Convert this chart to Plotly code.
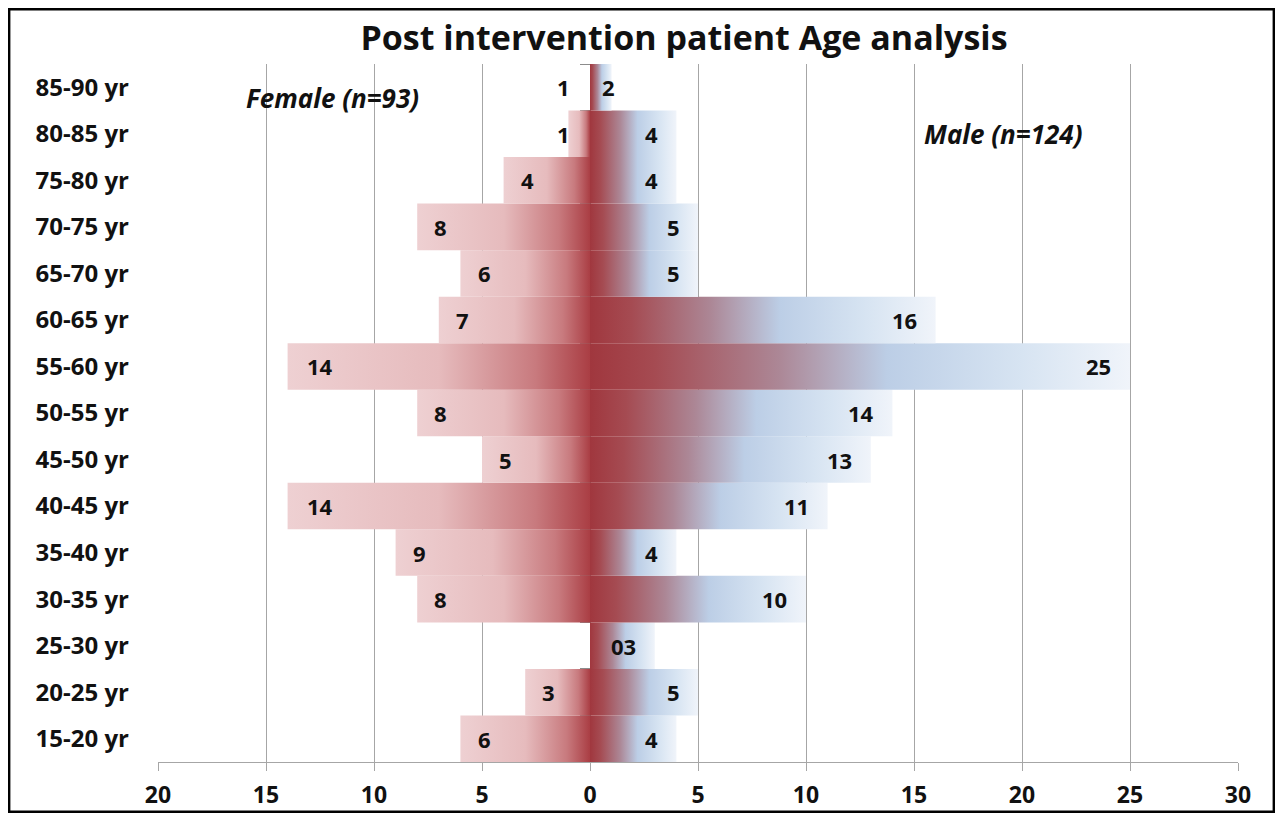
import plotly.graph_objects as go

# age bands, bottom to top
age_groups = ["15-20 yr", "20-25 yr", "25-30 yr", "30-35 yr", "35-40 yr",
              "40-45 yr", "45-50 yr", "50-55 yr", "55-60 yr", "60-65 yr",
              "65-70 yr", "70-75 yr", "75-80 yr", "80-85 yr", "85-90 yr"]

female = [6, 3, 0, 8, 9, 14, 5, 8, 14, 7, 6, 8, 4, 1, 0]
female_labels = ["6", "3", "", "8", "9", "14", "5", "8", "14", "7", "6", "8", "4", "1", "1"]

male = [4, 5, 3, 10, 4, 11, 13, 14, 25, 16, 5, 5, 4, 4, 1]
male_labels = ["4", "5", "03", "10", "4", "11", "13", "14", "25", "16", "5", "5", "4", "4", "2"]

x_ticks = [-20, -15, -10, -5, 0, 5, 10, 15, 20, 25, 30]

# the page body has an 8px margin all round, so keep the figure inside the window
W, H = 1267, 805
ML, MR, MT, MB = 150, 37, 56, 51

female_scale = [[0, "rgb(238,208,210)"], [0.5, "rgb(230,187,189)"],
                [0.82, "rgb(200,122,126)"], [1, "rgb(170,62,68)"]]
male_scale = [[0, "rgb(160,55,62)"], [0.12, "rgb(165,75,82)"],
              [0.35, "rgb(172,135,150)"], [0.55, "rgb(188,206,230)"],
              [0.8, "rgb(215,228,242)"], [1, "rgb(240,244,250)"]]

font = "Open Sans"
fig = go.Figure()

for i, v in enumerate(female):
    if v <= 0:
        continue
    fig.add_trace(go.Scatter(
        x=[-v, 0, 0, -v, -v], y=[i - 0.5, i - 0.5, i + 0.5, i + 0.5, i - 0.5],
        mode="lines", fill="toself", line=dict(width=0),
        fillgradient=dict(type="horizontal", colorscale=female_scale, start=-v, stop=0),
        showlegend=False, hoverinfo="skip"))

for i, v in enumerate(male):
    if v <= 0:
        continue
    fig.add_trace(go.Scatter(
        x=[0, v, v, 0, 0], y=[i - 0.5, i - 0.5, i + 0.5, i + 0.5, i - 0.5],
        mode="lines", fill="toself", line=dict(width=0),
        fillgradient=dict(type="horizontal", colorscale=male_scale, start=0, stop=v),
        showlegend=False, hoverinfo="skip"))

# invisible point so the category axis at x=0 gets drawn
fig.add_trace(go.Scatter(x=[0], y=[7], yaxis="y2", mode="markers",
                         marker=dict(opacity=0), showlegend=False, hoverinfo="skip"))

lab_font = dict(family=font, size=22, color="#111111")
for i, t in enumerate(female_labels):
    if not t:
        continue
    off = 1.1 if len(t) == 1 else 1.5
    pos = max(float(t) - off, 1.25)
    fig.add_annotation(x=-pos, y=i, text="<b>%s</b>" % t, showarrow=False,
                       font=lab_font, xanchor="center")
for i, t in enumerate(male_labels):
    off = 1.15 if len(t) == 1 else 1.45
    pos = float(t) - off
    fig.add_annotation(x=pos, y=i, text="<b>%s</b>" % t, showarrow=False,
                       font=lab_font, xanchor="center")

fig.add_annotation(x=-11.9, y=13.78, text="<b><i>Female (n=93)</i></b>", showarrow=False,
                   font=dict(family=font, size=26, color="#111111"))
fig.add_annotation(x=19.1, y=13.0, text="<b><i>Male (n=124)</i></b>", showarrow=False,
                   font=dict(family=font, size=26, color="#111111"))

# outer border
pw, ph = W - ML - MR, H - MT - MB
fig.add_shape(type="rect", xref="paper", yref="paper",
              x0=(1.2 - ML) / pw, x1=(W - 1.2 - ML) / pw,
              y0=(H - MB - (H - 1.2)) / ph, y1=(H - MB - 1.2) / ph,
              line=dict(color="black", width=2.4), layer="below")

fig.update_layout(
    width=W, height=H, autosize=False,
    margin=dict(l=ML, r=MR, t=MT, b=MB, autoexpand=False),
    paper_bgcolor="white", plot_bgcolor="white",
    title=dict(text="<b>Post intervention patient Age analysis</b>",
               x=(676 - ML) / pw, xref="paper", xanchor="center",
               y=1 - 30 / H, yanchor="middle",
               font=dict(family=font, size=34, color="#111111")),
    xaxis=dict(range=[-20, 30], tickvals=x_ticks, ticktext=["<b>%d</b>" % abs(t) for t in x_ticks],
               showgrid=True, gridcolor="#a6a6a6", gridwidth=1,
               zeroline=False, automargin=False,
               showline=True, linecolor="#a6a6a6", linewidth=1,
               ticks="outside", ticklen=8, tickcolor="#a6a6a6",
               ticklabelstandoff=4,
               tickfont=dict(family=font, size=23, color="#111111")),
    yaxis=dict(range=[-0.5, 14.5], tickvals=list(range(len(age_groups))),
               ticktext=["<b>%s</b>" % a for a in age_groups],
               showgrid=False, zeroline=False, showline=False, ticks="",
               automargin=False, ticklabelstandoff=28,
               tickfont=dict(family=font, size=24, color="#111111")),
    yaxis2=dict(range=[-0.5, 14.5], overlaying="y", anchor="free", position=20 / 50,
                side="left", showgrid=False, zeroline=False, automargin=False,
                showline=True, linecolor="#8c8c8c", linewidth=1,
                ticks="outside", ticklen=10, tickcolor="#8c8c8c",
                tickvals=[k - 0.5 for k in range(len(age_groups) + 1)],
                showticklabels=False, layer="below traces"),
)

fig.write_html("out.html")
